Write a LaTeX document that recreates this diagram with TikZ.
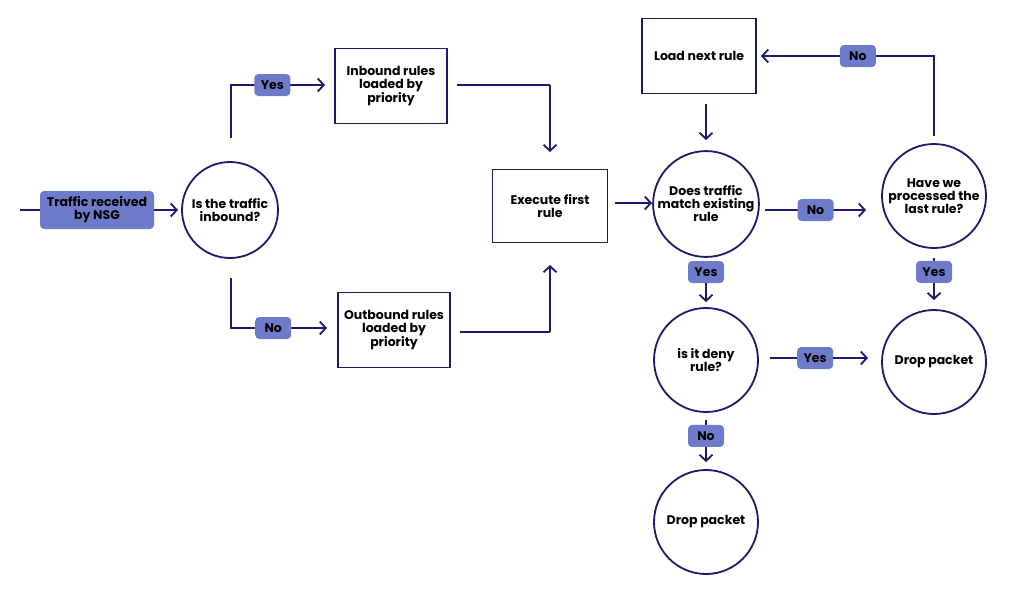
\documentclass[tikz,border=0pt]{standalone}
\usepackage{fontspec}
\setmainfont{Poppins}
\usetikzlibrary{arrows.meta}
\definecolor{navy}{HTML}{1C1A6B}
\definecolor{lab}{HTML}{6E7BCB}
\begin{document}
\begin{tikzpicture}[x=1pt,y=-1pt,
  every node/.style={font=\bfseries\fontsize{12.5}{13}\selectfont,align=center,text=black},
  box/.style={draw=navy,line width=1.8pt,minimum width=#1},
  circ/.style={draw=navy,line width=1.8pt,circle,minimum size=#1,inner sep=1pt},
  tag/.style={fill=lab,rounded corners=4pt,inner sep=3pt,minimum height=22,minimum width=36},
  ln/.style={draw=navy,line width=1.8pt},
  ar/.style={ln,-{Straight Barb[length=6pt,width=13pt,line width=1.8pt]}}]
\useasboundingbox (0,0) rectangle (1024,597);
\node[tag,minimum width=114,minimum height=38,inner sep=1pt] (t) at (97,210) {Traffic received\\by NSG};
\node[circ=96] (c1) at (230,210) {Is the traffic\\inbound?};
\node[box=112,minimum height=75] (in) at (391,86) {Inbound rules\\loaded by\\priority};
\node[box=112,minimum height=75] (out) at (394,330) {Outbound rules\\loaded by\\priority};
\node[box=115,minimum height=73] (ex) at (550,206) {Execute first\\rule};
\node[box=114,minimum height=75] (ld) at (699,56) {Load next rule};
\node[circ=100] (c2) at (706,204) {Does traffic\\match existing\\rule};
\node[circ=104] (c3) at (934,196) {Have we\\processed the\\last rule?};
\node[circ=104] (c4) at (706,360) {is it deny\\rule?};
\node[circ=104] (d1) at (934,362) {Drop packet};
\node[circ=104] (d2) at (706,522) {Drop packet};
\coordinate (s) at (20,210);
\draw[ln] (s) -- (t.west);
\draw[ar] (t.east) -- (178,210);
\draw[ar] (231,138) |- (325,85) node[tag,pos=0.72] {Yes};
\draw[ln] (457,85) -- (550,85);
\draw[ar] (550,85) -- (550,152);
\draw[ar] (231,278) |- (327,328) node[tag,pos=0.72] {No};
\draw[ln] (460,332) -- (550,332);
\draw[ar] (550,332) -- (550,265);
\draw[ar] (615,203) -- (652,203);
\draw[ar] (706,104) -- (706,140);
\draw[ar] (765,210) -- (866,210) node[tag,midway] {No};
\draw[ar] (934,136) |- (761,56) node[tag,pos=0.72] {No};
\draw[ar] (706,262) -- (706,302) node[tag,pos=0.25] {Yes};
\draw[ar] (770,358) -- (868,358) node[tag,pos=0.46] {Yes};
\draw[ar] (934,258) -- (934,300) node[tag,pos=0.33] {Yes};
\draw[ar] (706,420) -- (706,462) node[tag,pos=0.38] {No};
\end{tikzpicture}
\end{document}
